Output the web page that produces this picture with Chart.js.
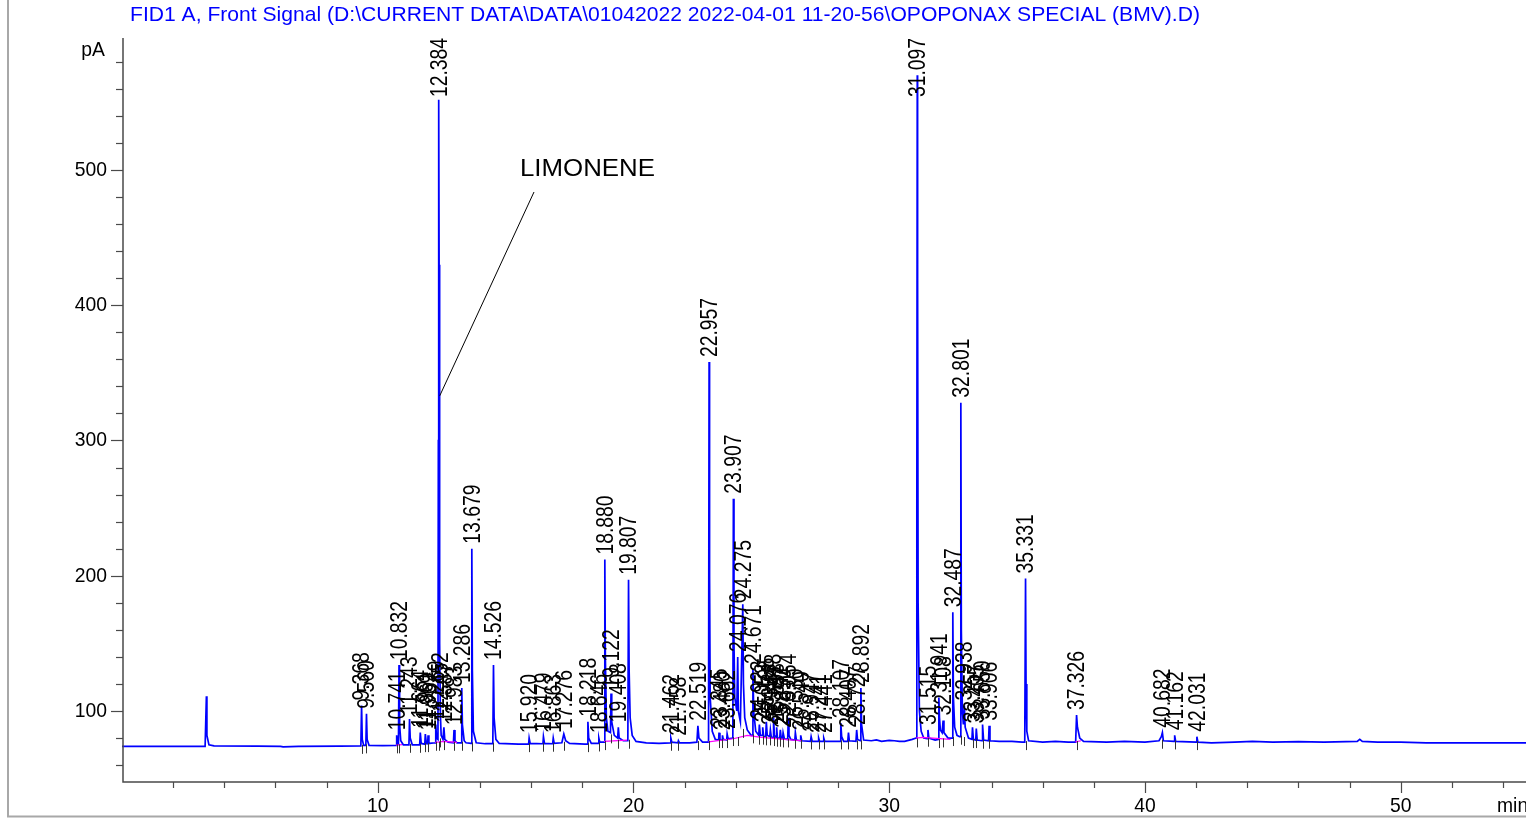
<!DOCTYPE html>
<html>
<head>
  <title>FID1 A, Front Signal</title>
  <script src="https://cdn.jsdelivr.net/npm/chart.js@4"></script>
  <style>
    html, body { margin: 0; padding: 0; background: #fff; overflow: hidden; }
    #wrap { width: 1526px; height: 818px; position: relative; }
  </style>
</head>
<body>
<div id="wrap"><canvas id="chart"></canvas></div>
<script>
  const signalTitle = 'FID1 A, Front Signal (D:\\CURRENT DATA\\DATA\\01042022 2022-04-01 11-20-56\\OPOPONAX SPECIAL (BMV).D)';
  const yUnit = 'pA';
  const xUnit = 'min';
  const xTickLabels = [10, 20, 30, 40, 50];
  const yTickLabels = [100, 200, 300, 400, 500];
  const annotationText = 'LIMONENE';
  const annotationTime = 12.384;

  // signal trace (min, pA)
  const traceTime = [
    0, 1.5, 3.25, 3.30, 3.32, 3.40, 3.6, 5.3, 6.2, 6.3, 6.9, 8.5,
    9.34, 9.368, 9.395, 9.45, 9.535, 9.56, 9.585, 9.66, 10.2,
    10.72, 10.741, 10.765, 10.81, 10.832, 10.855, 10.9, 11.0,
    11.22, 11.243, 11.27, 11.35, 11.64, 11.664, 11.70, 11.84, 11.861, 11.90,
    11.95, 11.969, 12.0, 12.25, 12.269, 12.30, 12.355, 12.37, 12.384, 12.40, 12.42,
    12.452, 12.48, 12.55, 12.587, 12.62, 12.75, 12.96, 12.983, 13.02, 13.1,
    13.26, 13.286, 13.31, 13.38, 13.45, 13.65, 13.679, 13.70, 13.74, 13.85,
    14.2, 14.50, 14.526, 14.55, 14.62, 14.75, 15.5,
    15.90, 15.92, 15.96, 16.46, 16.479, 16.52, 16.84, 16.863, 16.90,
    17.20, 17.276, 17.35, 17.5, 18.1, 18.20, 18.218, 18.25, 18.35,
    18.62, 18.646, 18.68, 18.855, 18.88, 18.90, 18.94, 19.0,
    19.10, 19.122, 19.15, 19.25, 19.38, 19.408, 19.44, 19.6,
    19.78, 19.807, 19.83, 19.87, 19.95, 20.1, 20.5, 21.0,
    21.44, 21.462, 21.50, 21.74, 21.758, 21.80, 22.2,
    22.48, 22.519, 22.56, 22.7, 22.935, 22.957, 22.975, 23.0, 23.08, 23.2,
    23.33, 23.345, 23.38, 23.465, 23.48, 23.51, 23.645, 23.662, 23.70,
    23.885, 23.907, 23.93, 23.96, 24.04, 24.076, 24.10, 24.18, 24.275, 24.30, 24.35, 24.45, 24.6,
    24.65, 24.671, 24.70, 24.78, 24.90, 24.923, 24.96, 25.03, 25.053, 25.09,
    25.17, 25.195, 25.23, 25.33, 25.354, 25.39, 25.46, 25.478, 25.51,
    25.58, 25.598, 25.63, 25.72, 25.742, 25.78, 25.83, 25.85, 25.90,
    26.03, 26.054, 26.08, 26.15, 26.31, 26.33, 26.37, 26.52, 26.54, 26.58,
    26.92, 26.947, 26.99, 27.22, 27.241, 27.28, 27.42, 27.441, 27.48, 27.8,
    28.08, 28.107, 28.14, 28.22, 28.38, 28.407, 28.44, 28.70, 28.727, 28.76,
    28.87, 28.892, 28.92, 29.0, 29.3, 29.5, 29.7, 30.0, 30.2, 30.4, 30.6, 30.9,
    31.05, 31.08, 31.097, 31.11, 31.13, 31.18, 31.25, 31.35,
    31.49, 31.515, 31.55, 31.8, 31.92, 31.941, 31.965, 32.0, 32.07,
    32.108, 32.14, 32.3, 32.465, 32.487, 32.51, 32.56, 32.65, 32.75,
    32.78, 32.801, 32.82, 32.86, 32.9, 32.938, 32.97, 33.1,
    33.235, 33.257, 33.29, 33.385, 33.405, 33.44, 33.63, 33.65, 33.69,
    33.885, 33.906, 33.94, 34.3, 34.8, 35.2,
    35.30, 35.331, 35.35, 35.38, 35.45, 36.0, 36.5, 37.0,
    37.29, 37.326, 37.36, 37.45, 37.6, 38.5, 39.2, 40.0,
    40.55, 40.64, 40.682, 40.72, 41.14, 41.162, 41.20, 42.01, 42.031, 42.07,
    42.6, 43.5, 44.2, 45, 46, 47, 48.3, 48.4, 48.5, 49.1, 50, 51, 53, 54.9
  ];
  const traceSignal = [
    73.8, 73.9, 73.9, 110.9, 82, 75, 74.2, 74.0, 73.9, 73.5, 73.8, 74,
    74.2, 104, 79, 74.6, 74.6, 98, 79, 74.6, 74.4,
    74.6, 82, 76, 75.5, 134, 90, 78, 75,
    75, 94, 80, 75, 75, 84, 76, 75.5, 83, 76,
    75.8, 82, 76, 76.5, 90, 80, 79, 300, 552, 430, 150,
    96, 82, 79, 88, 79, 77, 76.5, 86, 78, 76.5,
    76.5, 117, 90, 78, 76.5, 76, 220, 130, 85, 76.5,
    75.8, 75.8, 134, 95, 79, 76, 75.5,
    75.5, 80, 76, 75.8, 81, 76, 75.8, 80, 76,
    76.5, 83, 78, 76, 75.5, 75.5, 92, 80, 76,
    76, 80, 77, 77, 212, 140, 95, 85,
    84, 113, 92, 82, 80, 88, 80, 78,
    78, 197, 130, 95, 82, 77.5, 76.5, 76,
    76.5, 80, 77, 76.5, 78, 76.5, 76.5,
    77, 89, 80, 77, 77, 358, 200, 110, 85, 79,
    78.5, 84, 79, 78.5, 82, 79, 78.5, 83, 79.5,
    80, 257, 150, 110, 100, 140, 100, 92, 179, 120, 95, 86, 82,
    82, 131, 100, 85, 82, 90, 82, 82, 88, 81,
    81, 92, 82, 81, 86, 80.5, 80.5, 95, 82,
    80.5, 88, 80, 80, 86, 79.5, 79.5, 84, 79.5,
    79, 95, 82, 79, 78.5, 84, 78.5, 78, 82, 78,
    77.5, 81, 77.5, 77.5, 80, 77.5, 77.5, 80, 77.5, 77.5,
    77.5, 91, 81, 77.5, 77.5, 84, 78, 77.5, 86, 79,
    78, 117, 90, 78.5, 78, 78.6, 77.5, 78.3, 78, 77.6, 77.5, 79,
    80, 250, 570, 420, 180, 100, 85, 80,
    79.5, 86, 80, 78.5, 79, 110, 95, 86, 84,
    93, 84, 80, 80, 173, 110, 88, 82, 81,
    81, 328, 160, 100, 90, 104, 88, 80,
    79, 88, 79, 78.5, 87, 78.5, 78, 90, 78.5,
    78, 89, 78, 77.5, 77.5, 77,
    77, 198, 120, 85, 78, 77, 77.5, 77,
    77, 97, 88, 80, 77.5, 77, 77.5, 77,
    78, 81, 84, 78, 77.5, 82, 77.5, 77, 81, 77,
    76.5, 77, 77.6, 77, 77.4, 77, 77.5, 79, 77.5, 77, 77, 76.5, 76.5, 76.5
  ];

  // integrated peaks (retention times printed on the chart)
  const peakTimes = [
    9.368, 9.560, 10.741, 10.832, 11.243, 11.664, 11.861, 11.969, 12.269, 12.384,
    12.452, 12.587, 12.983, 13.286, 13.679, 14.526, 15.920, 16.479, 16.863, 17.276,
    18.218, 18.646, 18.880, 19.122, 19.408, 19.807, 21.462, 21.758, 22.519, 22.957,
    23.345, 23.480, 23.662, 23.907, 24.076, 24.275, 24.671, 24.923, 25.053, 25.195,
    25.354, 25.478, 25.598, 25.742, 25.850, 26.054, 26.330, 26.540, 26.947, 27.241,
    27.441, 28.107, 28.407, 28.727, 28.892, 31.097, 31.515, 31.941, 32.108, 32.487,
    32.801, 32.938, 33.257, 33.405, 33.650, 33.906, 35.331, 37.326, 40.682, 41.162,
    42.031
  ];

  // integration baselines (magenta), null breaks the segments
  const baselineTime = [10.72, 10.95, null, 12.25, 12.6, 13.1, null, 18.85, 19.75, null,
    22.93, 23.9, 24.45, 25.0, 26.0, 26.6, null, 31.05, 31.3, 32.4, null, 37.28, 37.5];
  const baselineSignal = [74.8, 75.2, null, 76.8, 77.5, 76.8, null, 77.5, 78.5, null,
    77.2, 79.5, 82.0, 80.5, 78.8, 78.0, null, 80, 80.5, 79, null, 77.2, 78];

  const FONT = '"Liberation Sans", Arial, sans-serif';

  function squeezedText(ctx, str, x, y, size, sx, align) {
    ctx.save();
    ctx.translate(x, y);
    ctx.scale(sx, 1);
    ctx.font = size + 'px ' + FONT;
    ctx.textAlign = align;
    ctx.textBaseline = 'middle';
    ctx.fillText(str, 0, 0);
    ctx.restore();
  }

  const chromDecor = {
    id: 'chromDecor',
    afterDatasetsDraw(chart) {
      const ctx = chart.ctx, xs = chart.scales.x, ys = chart.scales.y, a = chart.chartArea;
      ctx.save();

      // outer frame of the printout
      ctx.strokeStyle = '#a8a8a8';
      ctx.lineWidth = 2;
      ctx.beginPath();
      ctx.moveTo(8, 0); ctx.lineTo(8, 816.5); ctx.lineTo(1526, 816.5);
      ctx.stroke();

      // title
      ctx.fillStyle = '#0000ff';
      ctx.font = '21px ' + FONT;
      const tw = ctx.measureText(signalTitle).width;
      squeezedText(ctx, signalTitle, 130, 15, 21, 1070 / tw, 'left');

      // axes
      ctx.strokeStyle = '#4a4a4a';
      ctx.lineWidth = 1.5;
      ctx.beginPath();
      ctx.moveTo(a.left + 1, a.top); ctx.lineTo(a.left + 1, a.bottom); ctx.lineTo(a.right, a.bottom);
      ctx.stroke();

      ctx.lineWidth = 1.2;
      ctx.fillStyle = '#000';
      for (let v = 60; v < ys.max; v += 20) {
        const py = Math.round(ys.getPixelForValue(v)) + 0.5;
        const len = v % 100 === 0 ? 12 : 7;
        ctx.beginPath(); ctx.moveTo(a.left + 1, py); ctx.lineTo(a.left + 1 - len, py); ctx.stroke();
      }
      yTickLabels.forEach(v => squeezedText(ctx, String(v), 107, ys.getPixelForValue(v), 21, 0.92, 'right'));
      for (let v = 2; v < xs.max; v += 2) {
        const px = Math.round(xs.getPixelForValue(v)) + 0.5;
        const len = v % 10 === 0 ? 11 : 6;
        ctx.beginPath(); ctx.moveTo(px, a.bottom); ctx.lineTo(px, a.bottom + len); ctx.stroke();
      }
      xTickLabels.forEach(v => squeezedText(ctx, String(v), xs.getPixelForValue(v), 806, 21, 0.92, 'center'));
      squeezedText(ctx, yUnit, 105, 50, 21, 0.92, 'right');
      squeezedText(ctx, xUnit, 1497, 806, 21, 0.92, 'left');

      // peak start/stop marks and retention-time labels
      ctx.strokeStyle = '#333';
      ctx.lineWidth = 1;
      peakTimes.forEach(t => {
        let base = Infinity;
        traceTime.forEach((tt, i) => { if (Math.abs(tt - t) < 0.2) base = Math.min(base, traceSignal[i]); });
        const px = Math.round(xs.getPixelForValue(t)) + 0.5;
        const py = ys.getPixelForValue(base);
        ctx.beginPath(); ctx.moveTo(px, py - 1); ctx.lineTo(px, py + 8); ctx.stroke();
      });

      ctx.fillStyle = '#000';
      ctx.font = '23px ' + FONT;
      peakTimes.forEach(t => {
        const label = t.toFixed(3);
        const apex = traceSignal[traceTime.indexOf(t)];
        const len = ctx.measureText(label).width * 0.84;
        let py = ys.getPixelForValue(apex) - 5;
        if (py - len < a.top) py = a.top + len;
        ctx.save();
        ctx.translate(xs.getPixelForValue(t) + 1.5, py);
        ctx.rotate(-Math.PI / 2);
        ctx.scale(0.84, 1);
        ctx.textAlign = 'left';
        ctx.textBaseline = 'middle';
        ctx.fillText(label, 0, 0);
        ctx.restore();
      });

      // LIMONENE call-out
      ctx.font = '24px ' + FONT;
      const lw = ctx.measureText(annotationText).width;
      squeezedText(ctx, annotationText, 520, 169, 24, 135 / lw, 'left');
      ctx.strokeStyle = '#000';
      ctx.lineWidth = 1;
      ctx.beginPath();
      ctx.moveTo(534, 192);
      ctx.lineTo(xs.getPixelForValue(annotationTime) + 1, ys.getPixelForValue(333));
      ctx.stroke();

      ctx.restore();
    }
  };

  const ctx = document.getElementById('chart').getContext('2d');
  new Chart(ctx, {
    type: 'line',
    data: {
      datasets: [{
        label: 'baseline',
        data: baselineTime.map((t, i) => ({ x: t, y: baselineSignal[i] })),
        borderColor: '#ff00ff',
        borderWidth: 1.2,
        pointRadius: 0,
        spanGaps: false
      }, {
        label: 'FID1 A',
        data: traceTime.map((t, i) => ({ x: t, y: traceSignal[i] })),
        borderColor: '#0000ff',
        borderWidth: 1.7,
        pointRadius: 0,
        tension: 0
      }]
    },
    options: {
      responsive: true,
      maintainAspectRatio: false,
      animation: false,
      layout: { padding: { left: 122, top: 38, right: 0, bottom: 36 } },
      plugins: { legend: { display: false }, tooltip: { enabled: false } },
      scales: {
        x: { type: 'linear', min: 0, max: 54.9, display: false },
        y: { min: 47.5, max: 597.6, display: false }
      }
    },
    plugins: [chromDecor]
  });
</script>
</body>
</html>
